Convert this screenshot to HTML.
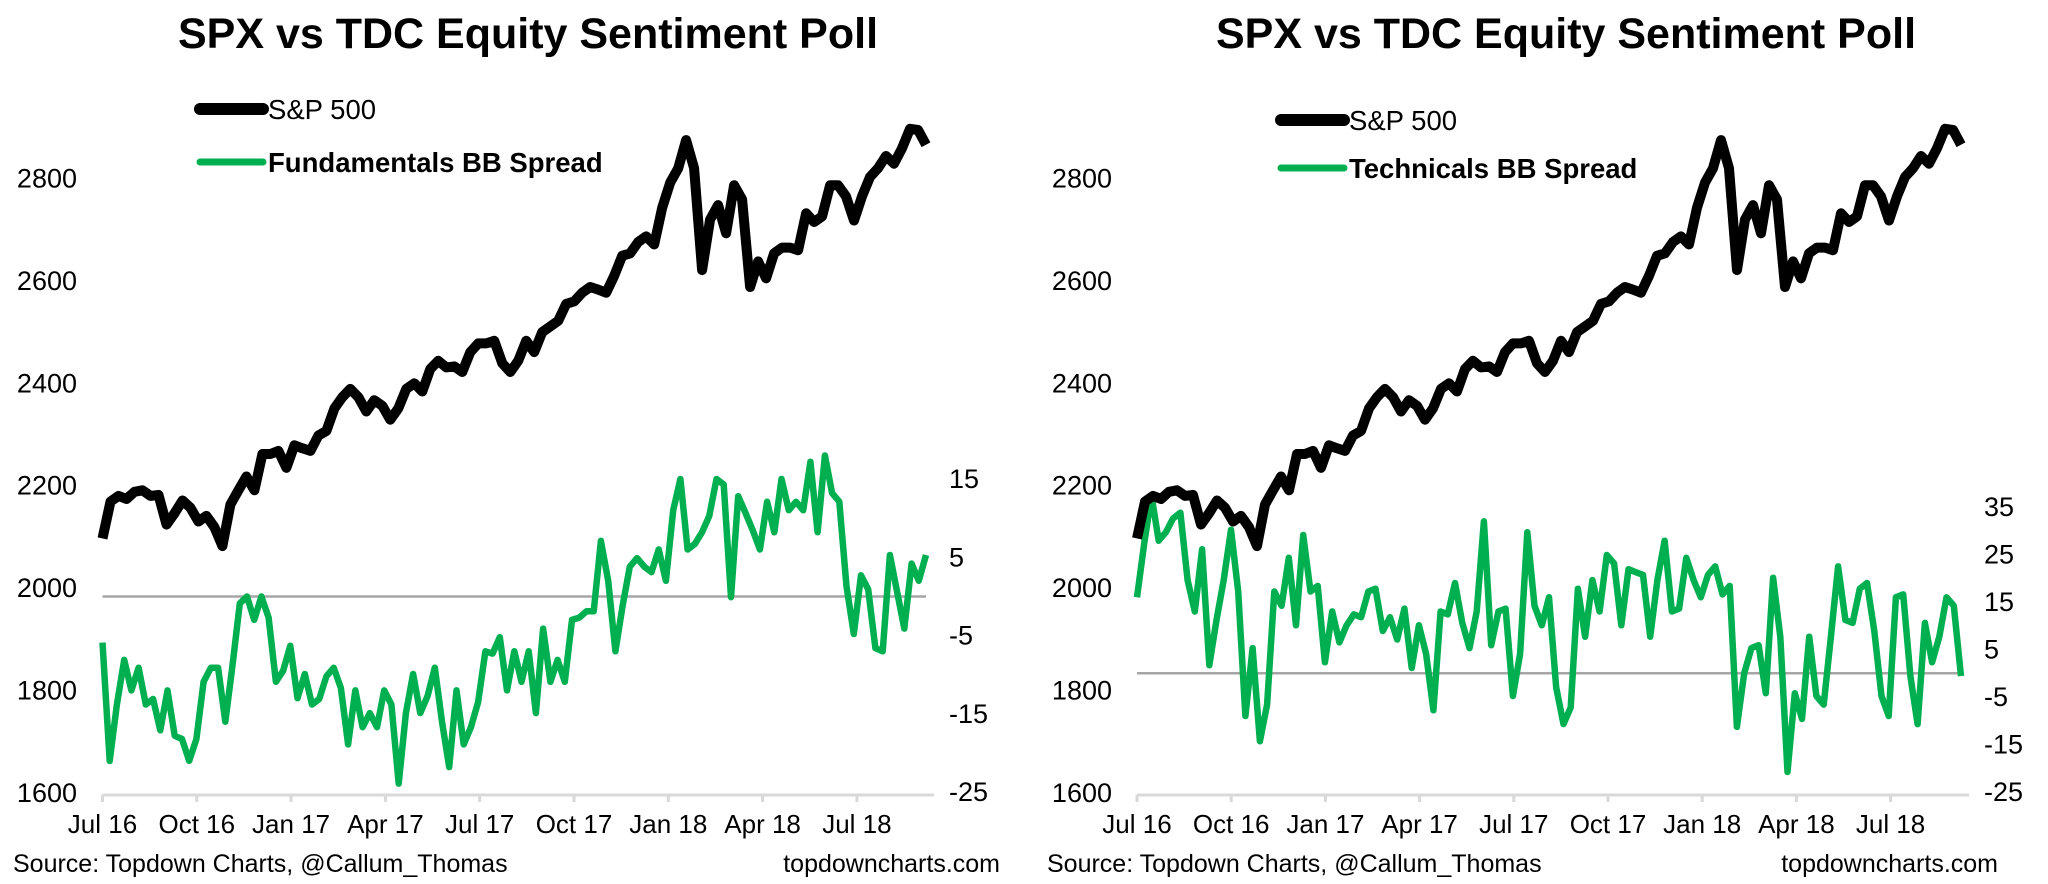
<!DOCTYPE html>
<html><head><meta charset="utf-8"><style>
html,body{margin:0;padding:0;background:#fff;}
svg{display:block;font-family:"Liberation Sans",Arial,sans-serif;}
</style></head><body>
<svg id="c" width="2048" height="884" viewBox="0 0 2048 884" xmlns="http://www.w3.org/2000/svg"></svg>
<script>
const quarterLabels = ["Jul 16","Oct 16","Jan 17","Apr 17","Jul 17","Oct 17","Jan 18","Apr 18","Jul 18"];
const leftTicks = [1600,1800,2000,2200,2400,2600,2800];
const fundTicks = [-25,-15,-5,5,15];
const techTicks = [-25,-15,-5,5,15,25,35];
const spx = [2097,2169,2180,2174,2188,2191,2180,2182,2124,2146,2171,2157,2130,2141,2119,2082,2163,2191,2218,2191,2262,2262,2268,2235,2279,2273,2268,2298,2307,2351,2373,2389,2373,2345,2367,2356,2329,2351,2389,2400,2384,2428,2444,2431,2433,2422,2461,2478,2478,2483,2439,2422,2444,2483,2461,2500,2511,2522,2555,2560,2577,2588,2583,2577,2610,2649,2654,2676,2687,2671,2743,2792,2820,2875,2820,2621,2720,2748,2693,2787,2759,2588,2638,2605,2654,2665,2665,2660,2732,2715,2726,2787,2787,2765,2718,2765,2803,2820,2844,2829,2859,2897,2895,2866];
const fundamentals = [-5.9,-21.0,-13.8,-8.1,-12.0,-9.1,-13.8,-13.1,-17.1,-12.0,-17.8,-18.2,-21.0,-18.2,-10.9,-9.1,-9.1,-16.0,-8.8,-0.9,0.0,-3.0,0.0,-2.7,-10.9,-9.5,-6.3,-13.0,-9.9,-13.8,-13.1,-10.2,-9.1,-11.7,-18.9,-12.0,-16.7,-14.9,-16.7,-12.0,-13.8,-23.9,-14.9,-9.9,-14.9,-12.7,-9.1,-16.0,-21.8,-12.0,-18.9,-16.7,-13.5,-7.0,-7.3,-5.2,-12.0,-7.0,-10.9,-7.0,-14.9,-4.1,-10.9,-8.1,-10.9,-3.0,-2.7,-1.9,-1.9,7.1,2.0,-7.0,-1.2,3.8,4.9,3.8,3.1,6.0,2.0,11.0,15.0,6.0,6.7,8.2,10.3,15.0,14.3,-0.1,12.8,10.7,8.5,6.0,12.1,8.2,15.0,11.0,12.1,11.0,17.2,8.2,18.0,13.2,12.1,1.3,-4.8,2.7,0.9,-6.6,-7.0,5.3,0.6,-4.1,4.2,2.0,5.3];
const technicals = [16.0,27.3,37.4,27.9,29.7,32.6,33.8,19.6,13.0,26.1,1.7,11.2,19.6,30.2,17.2,-9.0,5.3,-14.3,-6.6,17.2,14.2,24.3,10.1,29.1,17.2,18.4,2.3,13.0,6.5,10.1,12.4,11.8,17.2,17.8,8.9,11.8,7.1,13.6,1.1,10.1,4.1,-7.8,13.0,12.4,19.0,10.6,5.3,13.0,32.0,5.9,13.0,13.6,-4.8,4.1,29.7,14.2,10.1,16.0,-3.0,-10.7,-7.2,17.8,7.7,19.6,13.0,24.9,23.1,10.1,21.9,21.3,20.7,7.7,19.6,27.9,13.0,13.6,24.3,19.6,16.0,20.7,22.5,16.6,18.4,-11.3,0.0,5.3,5.9,-4.2,20.1,7.7,-20.8,-4.2,-9.6,7.7,-4.8,-6.6,7.7,22.5,11.2,10.6,17.8,19.0,8.9,-4.8,-9.0,16.0,16.6,-0.6,-10.7,10.6,2.3,7.7,16.0,14.2,-0.6];

const NS="http://www.w3.org/2000/svg";
const svg=document.getElementById('c');
function mk(tag,attrs,parent){const e=document.createElementNS(NS,tag);for(const k in attrs)e.setAttribute(k,attrs[k]);(parent||svg).appendChild(e);return e;}
function txt(x,y,s,size,anchor,weight,parent){const t=mk('text',{x:x,y:y,'font-size':size,'text-anchor':anchor||'start','font-weight':weight||'normal',fill:'#000'},parent);t.textContent=s;return t;}

function drawChart(cfg){
  const g=mk('g',{});
  
  
  const xq=i=>cfg.x0+i*cfg.qstep;
  const yL=v=>178.5+(2800-v)/200*102.4;
  const yR=v=>cfg.r0y+(cfg.r0v-v)/10*cfg.r10;
  const xs=(i,n)=>cfg.x0+i*(cfg.xEnd-cfg.x0)/(n-1);
  const t=txt(cfg.cx,48,"SPX vs TDC Equity Sentiment Poll",43,'middle','bold',g);
  
  
  const ax=mk('line',{x1:cfg.x0,x2:cfg.xEnd+8,y1:795,y2:795,stroke:'#d9d9d9','stroke-width':3},g);
  
  
  quarterLabels.forEach((l,i)=>{
    mk('line',{x1:xq(i),x2:xq(i),y1:795,y2:802,stroke:'#d9d9d9','stroke-width':3},g);
    const e=txt(xq(i),833,l,26,'middle','normal',g);
    
    
  });
  leftTicks.forEach(v=>{
    const e=txt(cfg.lx,yL(v)+9,String(v),27,'end','normal',g);
    
    
  });
  cfg.rticks.forEach(v=>{
    const e=txt(cfg.rx,yR(v)+9,String(v),27,'start','normal',g);
    
    
  });
  const z=mk('line',{x1:cfg.x0,x2:cfg.xEnd,y1:yR(0),y2:yR(0),stroke:'#a6a6a6','stroke-width':2.5},g);
  
  
  const gp=mk('polyline',{points:cfg.green.map((v,i)=>xs(i,cfg.green.length).toFixed(1)+','+yR(v).toFixed(1)).join(' '),fill:'none',stroke:'#00b050','stroke-width':6.5,'stroke-linejoin':'round'},g);
  
  
  const bp=mk('polyline',{points:spx.map((v,i)=>xs(i,spx.length).toFixed(1)+','+yL(v).toFixed(1)).join(' '),fill:'none',stroke:'#000','stroke-width':10,'stroke-linejoin':'round'},g);
  
  
  const l1=mk('line',{x1:cfg.lgx,x2:cfg.lgx+63,y1:cfg.lgy1,y2:cfg.lgy1,stroke:'#000','stroke-width':12,'stroke-linecap':'round'},g);
  
  
  const t1=txt(cfg.lgx+68,cfg.lgy1+10,"S&P 500",27.5,'start','normal',g);
  
  
  const l2=mk('line',{x1:cfg.lgx,x2:cfg.lgx+63,y1:cfg.lgy2,y2:cfg.lgy2,stroke:'#00b050','stroke-width':7,'stroke-linecap':'round'},g);
  
  
  const t2=txt(cfg.lgx+68,cfg.lgy2+10,cfg.gname,27.5,'start','bold',g);
  
  
  const s1=txt(cfg.sx,872,"Source: Topdown Charts, @Callum_Thomas",25,'start','normal',g);
  
  
  const s2=txt(cfg.sr,872,"topdowncharts.com",25,'end','normal',g);
  
  
}
drawChart({name:'fundamentals-chart',x0:102.5,xEnd:926,qstep:94.3,cx:528,lx:77,rx:949,rticks:fundTicks,r0y:479,r0v:15,r10:78.3,green:fundamentals,gname:"Fundamentals BB Spread",lgx:200,lgy1:109,lgy2:162,sx:13,sr:1000});
drawChart({name:'technicals-chart',x0:1137,xEnd:1961,qstep:94.2,cx:1566,lx:1112,rx:1984,rticks:techTicks,r0y:507,r0v:35,r10:47.5,green:technicals,gname:"Technicals BB Spread",lgx:1281,lgy1:120,lgy2:168,sx:1047,sr:1998});
</script>
</body></html>
